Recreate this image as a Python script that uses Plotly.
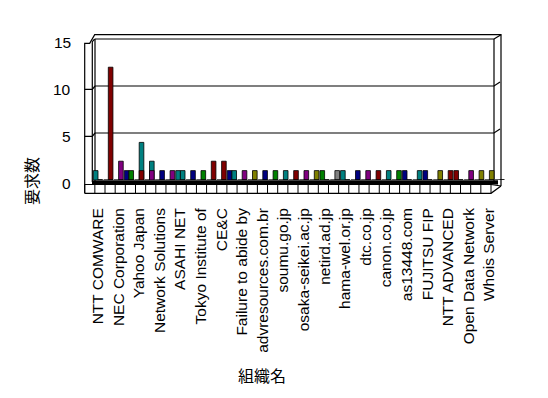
import plotly.graph_objects as go

# ---------------- data ----------------
label_names = [
    "NTT COMWARE", "NEC Corporation", "Yahoo Japan", "Network Solutions",
    "ASAHI NET", "Tokyo Institute of", "CE&C", "Failure to abide by",
    "advresources.com.br", "soumu.go.jp", "osaka-seikei.ac.jp", "netird.ad.jp",
    "hama-wel.or.jp", "dtc.co.jp", "canon.co.jp", "as13448.com",
    "FUJITSU FIP", "NTT ADVANCED", "Open Data Network", "Whois Server",
]
n_categories = 40
category_index = list(range(n_categories))
y_ticks = [0, 5, 10, 15]

# values per category (left / right series, plus the short bar drawn in front)
left_values = [1, 0, 0, 1, 0, 0, 0, 0, 1, 0,
               0, 0, 0, 1, 0, 0, 0, 0, 0, 0,
               0, 0, 1, 0, 1, 0, 0, 0, 0, 0,
               1, 0, 1, 0, 0, 1, 0, 0, 0, 0]
right_values = [0, 12, 2, 1, 4, 2, 1, 1, 1, 1,
                1, 2, 2, 1, 1, 1, 1, 1, 1, 1,
                1, 1, 0, 1, 0, 1, 1, 1, 1, 1,
                0, 1, 0, 1, 1, 0, 1, 1, 1, 0]
front_values = [0, 0, 0, 0, 1, 1, 0, 0, 0, 0,
                0, 0, 0, 0, 0, 0, 0, 0, 0, 0,
                0, 0, 0, 0, 0, 0, 0, 0, 0, 0,
                0, 0, 0, 0, 0, 0, 0, 0, 0, 0]

# colours (styles)
TEAL, DRED, MAG, BLUE, GRN, OLV, GRY = "#008080", "#800000", "#800080", "#000080", "#008000", "#808000", "#808080"
left_colors = [TEAL, GRY, GRY, BLUE, GRY, GRY, GRY, GRY, TEAL, GRY,
               GRY, GRY, GRY, BLUE, GRY, GRY, GRY, GRY, GRY, GRY,
               GRY, GRY, GRN, GRY, TEAL, GRY, GRY, GRY, GRY, GRY,
               BLUE, GRY, BLUE, GRY, GRY, DRED, GRY, GRY, GRY, GRY]
right_colors = [GRY, DRED, MAG, GRN, TEAL, TEAL, BLUE, MAG, TEAL, BLUE,
                GRN, DRED, DRED, TEAL, MAG, OLV, BLUE, GRN, TEAL, DRED,
                MAG, OLV, GRY, GRY, GRY, BLUE, MAG, DRED, TEAL, GRN,
                GRY, TEAL, GRY, OLV, DRED, GRY, MAG, OLV, OLV, GRY]
front_colors = [DRED if i == 4 else MAG for i in range(n_categories)]

# ---------------- geometry (pixels, reference window coordinates) ----------------
PAGE_OFF = 8                      # default body margin of the html page
FIG_W, FIG_H = 548 - 2 * PAGE_OFF, 398 - 2 * PAGE_OFF
L_PX, R_PX, T_PX, B_PX = 90, 505, 39, 180
W = R_PX - L_PX
H = B_PX - T_PX
CAT_W = 10.3
FIRST_CENTER = 98
x_start = -(FIRST_CENTER - L_PX) / CAT_W
x_end = x_start + W / CAT_W


def px(x):
    return (x - L_PX) / W


def py(y):
    return (B_PX - y) / H


FONT = "Liberation Sans, Arial, sans-serif"
CJK = "Noto Sans CJK JP"

fig = go.Figure()
line_style = dict(color="#000000", width=0.8)
fig.add_trace(go.Bar(x=category_index, y=left_values, marker=dict(color=left_colors, line=line_style),
                     offsetgroup="L", showlegend=False, hoverinfo="skip"))
fig.add_trace(go.Bar(x=category_index, y=right_values, marker=dict(color=right_colors, line=line_style),
                     offsetgroup="R", showlegend=False, hoverinfo="skip"))
fig.add_trace(go.Bar(x=category_index, y=front_values, marker=dict(color=front_colors, line=line_style),
                     offsetgroup="R", showlegend=False, hoverinfo="skip"))

shapes = []


def pline(points, width=1.2, layer="below"):
    d = "M " + " L ".join(f"{px(x):.5f},{py(y):.5f}" for x, y in points)
    shapes.append(dict(type="path", path=d, xref="paper", yref="paper",
                       line=dict(color="black", width=width), layer=layer))


# back wall
pline([(95, T_PX), (494, T_PX)])
pline([(95, T_PX), (95, 181)])
pline([(494, T_PX), (494, 181)])
for v in (5, 10):
    yy = B_PX - v * H / 15
    pline([(95, yy), (494, yy), (500, yy - 4)])
    pline([(84.7, yy + 3.3), (92.3, yy + 3.3), (95, yy)])
# outer frame
pline([(84.7, 193.3), (84.7, 43.3), (89.7, 43.3), (94.7, 34.7), (501, 34.7), (501, 186)])
pline([(92.3, 182), (92.3, 41.7), (94.7, T_PX)])
pline([(494, T_PX), (501, 34.7)])
# floor band
shapes.append(dict(type="rect", xref="paper", yref="paper", x0=px(92), x1=px(498),
                   y0=py(184.5), y1=py(180.3), fillcolor="black", line=dict(width=0), layer="above"))
# floor front face with cells
pline([(84.7, 184.5), (491, 184.5), (501, 186)], layer="above")
pline([(84.7, 193.3), (491, 193.3), (501, 186)], layer="above")
cell_w = (491 - 84.7) / 40
for i in range(41):
    xx = 84.7 + i * cell_w
    pline([(xx, 184.5), (xx, 193.3)], width=1, layer="above")

# value labels on the front (left) face of the box, slightly below the back-wall lines
annotations = []
for v in y_ticks:
    yy = B_PX - v * H / 15 + 3
    annotations.append(dict(text=str(v), x=px(73), y=py(yy), xref="paper", yref="paper",
                            showarrow=False, xanchor="right", yanchor="middle",
                            font=dict(family=FONT, size=15.5, color="black")))
annotations += [
    dict(text="組織名", x=px(262), y=py(375), xref="paper", yref="paper",
         showarrow=False, xanchor="center", yanchor="middle",
         font=dict(family=CJK, size=16, color="black")),
    dict(text="要求数", x=px(31), y=py(181), xref="paper", yref="paper",
         showarrow=False, xanchor="center", yanchor="middle", textangle=-90,
         font=dict(family=CJK, size=16, color="black")),
]

fig.update_layout(
    width=FIG_W, height=FIG_H,
    margin=dict(l=L_PX - PAGE_OFF, r=FIG_W - (R_PX - PAGE_OFF),
                t=T_PX - PAGE_OFF, b=FIG_H - (B_PX - PAGE_OFF), pad=0, autoexpand=False),
    paper_bgcolor="white", plot_bgcolor="white",
    barmode="group", bargap=0.1, bargroupgap=0,
    showlegend=False,
    font=dict(family=FONT, size=15.5, color="black"),
    xaxis=dict(range=[x_start, x_end], tickmode="array",
               tickvals=category_index[0::2], ticktext=label_names,
               tickangle=-90, ticks="", ticklabelstandoff=24,
               showgrid=False, zeroline=False, showline=False,
               tickfont=dict(family=FONT, size=15.5)),
    yaxis=dict(range=[0, 15], tickvals=y_ticks, ticks="", showticklabels=False,
               showgrid=False, zeroline=False, showline=False),
    shapes=shapes,
    annotations=annotations,
)

fig.write_html("out.html")
